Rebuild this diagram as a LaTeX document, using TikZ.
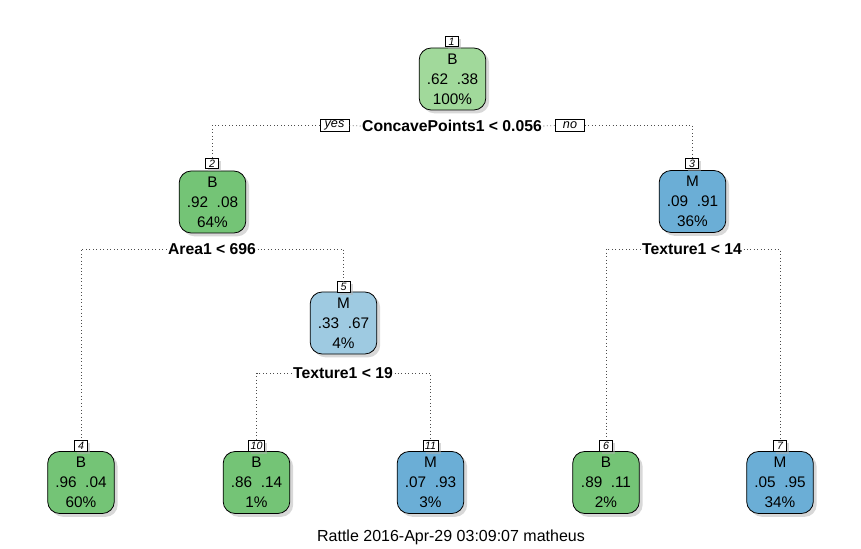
\documentclass[tikz,border=0pt]{standalone}
\usepackage{fontspec}
\setmainfont{Liberation Sans}
\usetikzlibrary{shadows}
\definecolor{greenpale}{HTML}{A1D99B}
\definecolor{greenmid}{HTML}{74C476}
\definecolor{bluepale}{HTML}{9ECAE1}
\definecolor{bluemid}{HTML}{6BAED6}
\begin{document}
\begin{tikzpicture}[x=0.75pt,y=-0.75pt,
    treenode/.style={draw=black, line width=0.6pt, rounded corners=9pt,
      minimum width=50pt, minimum height=46.5pt, inner sep=0pt, align=center,
      font=\fontsize{11.5}{15}\selectfont,
      drop shadow={shadow xshift=2.5pt, shadow yshift=-2.5pt, fill=black!30}},
    nodetag/.style={draw=black, line width=0.5pt, fill=white, inner xsep=1.5pt,
      inner ysep=0pt, minimum width=10pt, minimum height=8pt,
      font=\fontsize{8}{8}\selectfont\itshape,
      drop shadow={shadow xshift=2pt, shadow yshift=-2pt, fill=black!30}},
    splitlabel/.style={fill=white, inner sep=1pt,
      font=\fontsize{11.8}{13}\selectfont\bfseries},
    yesno/.style={draw=black, line width=0.5pt, fill=white, inner xsep=2pt,
      inner ysep=0pt, minimum width=22pt, minimum height=8.5pt,
      font=\fontsize{9.5}{9}\selectfont\itshape},
    link/.style={dotted, line width=0.6pt, black!70}]
  \useasboundingbox (0,0) rectangle (861,549);
  % Root
  \node[treenode, fill=greenpale] (n1) at (452.5,79) {B\\.62\ \ .38\\100\%};
  \node[nodetag] (t1) at (451.5,41.5) {1};
  \node[splitlabel] (s1) at (452,126) {ConcavePoints1 < 0.056};
  \node[yesno] (yes) at (334.5,125.5) {yes};
  \node[yesno] (no) at (570,125.5) {no};
  % Level 2
  \node[treenode, fill=greenmid] (n2) at (212.5,202) {B\\.92\ \ .08\\64\%};
  \node[nodetag] (t2) at (212,163.5) {2};
  \node[splitlabel] (s2) at (212,249) {Area1 < 696};
  \node[treenode, fill=bluemid] (n3) at (692.5,201.5) {M\\.09\ \ .91\\36\%};
  \node[nodetag] (t3) at (692,163.5) {3};
  \node[splitlabel] (s3) at (692,249) {Texture1 < 14};
  % Level 3
  \node[treenode, fill=bluepale] (n5) at (343.5,323) {M\\.33\ \ .67\\4\%};
  \node[nodetag] (t5) at (343.5,287) {5};
  \node[splitlabel] (s5) at (343,373) {Texture1 < 19};
  % Leaves
  \node[treenode, fill=greenmid] (n4) at (81,482.5) {B\\.96\ \ .04\\60\%};
  \node[nodetag] (t4) at (81,445.5) {4};
  \node[treenode, fill=greenmid] (n10) at (256.5,482.5) {B\\.86\ \ .14\\1\%};
  \node[nodetag] (t10) at (256.5,445.5) {10};
  \node[treenode, fill=bluemid] (n11) at (430.5,482.5) {M\\.07\ \ .93\\3\%};
  \node[nodetag] (t11) at (430.5,445.5) {11};
  \node[treenode, fill=greenmid] (n6) at (606,482.5) {B\\.89\ \ .11\\2\%};
  \node[nodetag] (t6) at (606,445.5) {6};
  \node[treenode, fill=bluemid] (n7) at (780,482.5) {M\\.05\ \ .95\\34\%};
  \node[nodetag] (t7) at (780,445.5) {7};
  % Links
  \draw[link] (s1.west) -- (yes.east);
  \draw[link] (s1.east) -- (no.west);
  \draw[link] (yes.west) -| (t2.north);
  \draw[link] (no.east) -| (t3.north);
  \draw[link] (s2.west) -| (t4.north);
  \draw[link] (s2.east) -| (t5.north);
  \draw[link] (s3.west) -| (t6.north);
  \draw[link] (s3.east) -| (t7.north);
  \draw[link] (s5.west) -| (t10.north);
  \draw[link] (s5.east) -| (t11.north);
  \node[font=\fontsize{12}{13}\selectfont] (cap) at (451,537) {Rattle 2016-Apr-29 03:09:07 matheus};
\end{tikzpicture}
\end{document}
